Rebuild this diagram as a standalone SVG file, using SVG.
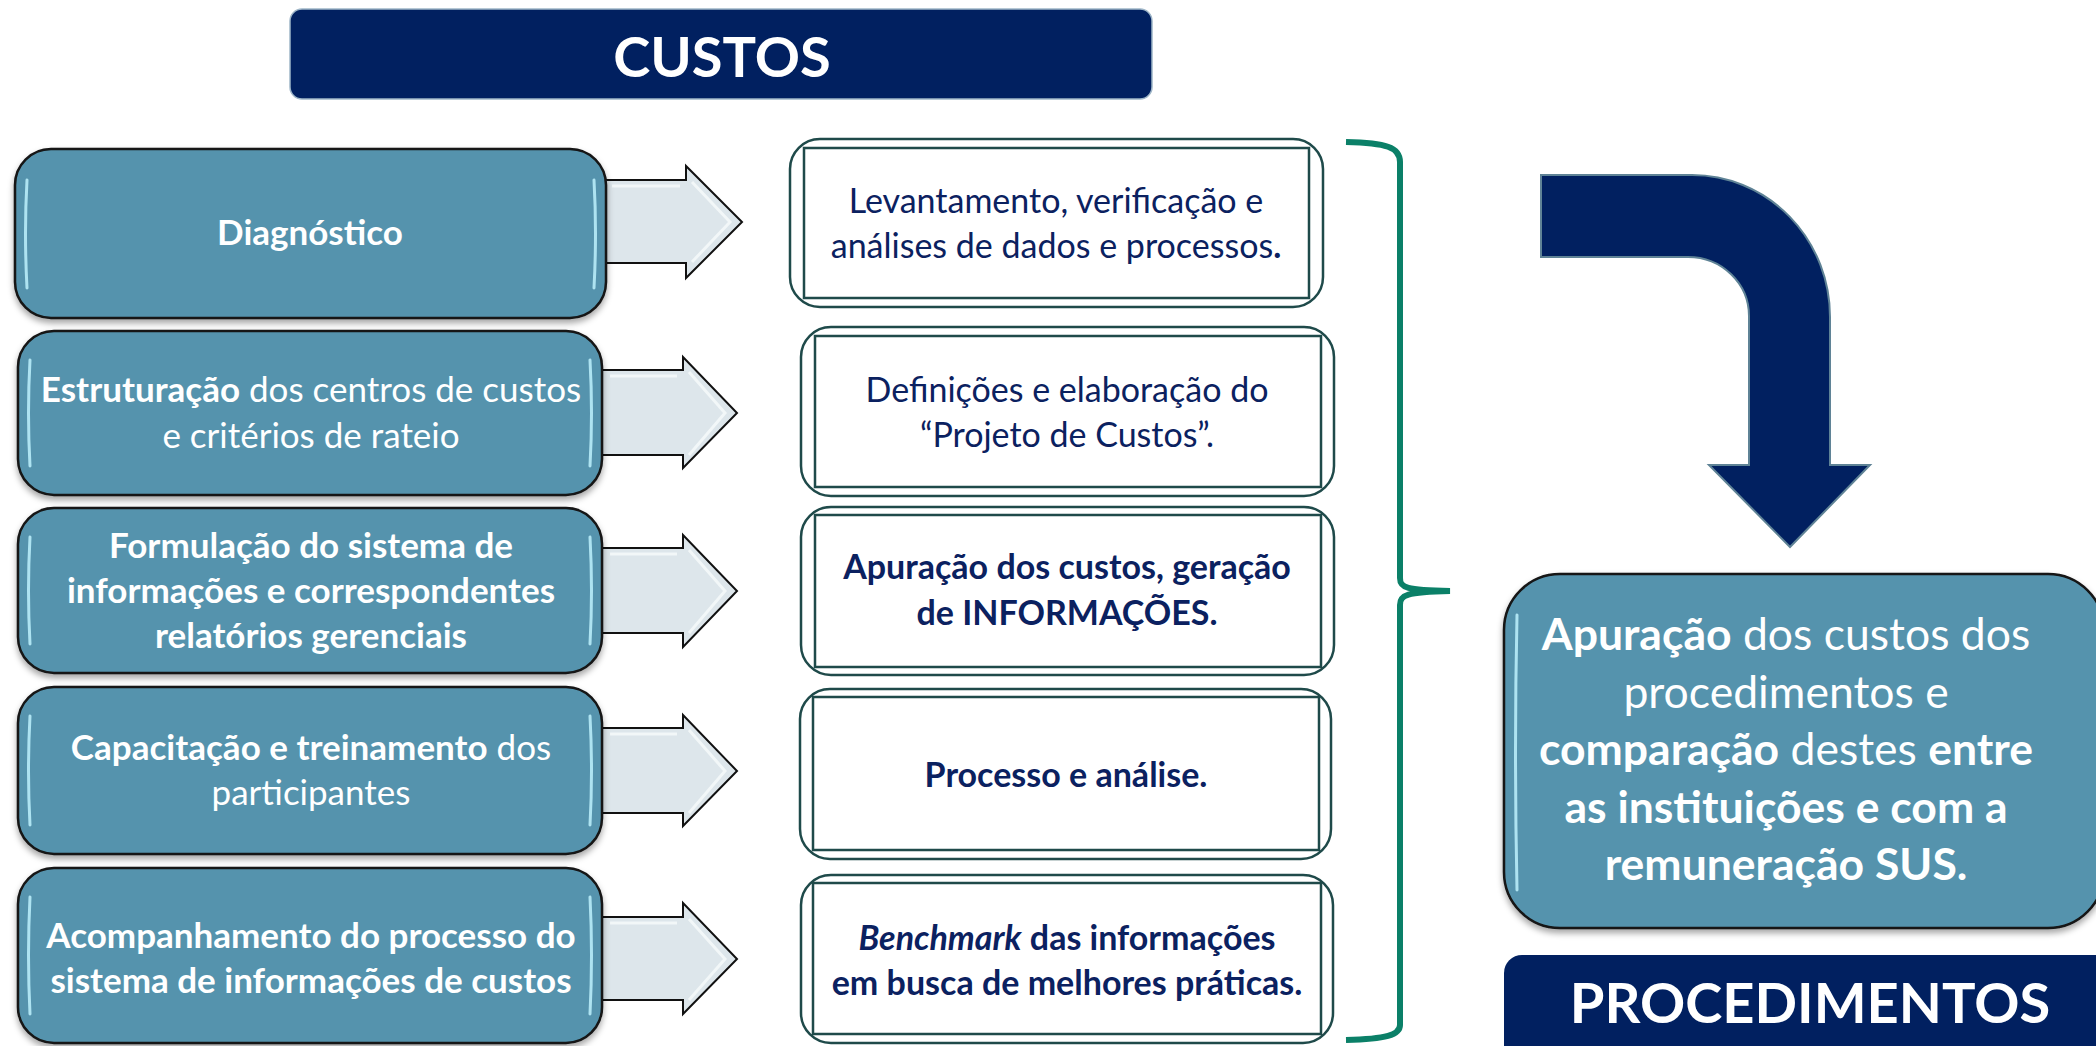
<svg xmlns="http://www.w3.org/2000/svg" width="2096" height="1046" viewBox="0 0 2096 1046">
<defs>
<style>
.lbox{fill:#5593ad;stroke:#141414;stroke-width:2.5}
.hl{stroke:#b8ecf8;stroke-width:3;stroke-linecap:round;fill:none;opacity:0.9}
.arr{fill:#dde6eb;stroke:#111;stroke-width:2;stroke-linejoin:miter}
.bev{fill:none;stroke:#f4f8fa;stroke-width:3;opacity:0.9}
.mout{fill:#fff;stroke:#1f4a4a;stroke-width:2.5}
.min{fill:none;stroke:#1f4a4a;stroke-width:2.5}
.lt{font-family:Lato,"Liberation Sans",sans-serif;font-size:35px;fill:#fff;text-anchor:middle}
.mt{font-family:Lato,"Liberation Sans",sans-serif;font-size:34px;fill:#0b2160;text-anchor:middle}
.rt{font-family:Lato,"Liberation Sans",sans-serif;font-size:44.5px;fill:#fff;text-anchor:middle}
.ht{font-family:Lato,"Liberation Sans",sans-serif;font-weight:bold;fill:#fff;text-anchor:middle}
.b{font-weight:bold}
.navy{fill:#012060}
</style>
<filter id="sh" x="-5%" y="-5%" width="110%" height="115%">
<feDropShadow dx="0" dy="4" stdDeviation="3" flood-color="#000" flood-opacity="0.35"/>
</filter>
</defs>

<g id="header-custos">
<rect class="navy" x="290" y="9" width="862" height="90" rx="12" stroke="#9fb6c8" stroke-width="1.5"/>
<text class="ht" x="722" y="77" font-size="56">CUSTOS</text>
</g>

<g id="connectors">
<path class="arr" d="M600,180 L686,180 L686,166 L742,222 L686,278 L686,263 L600,263 Z"/>
<path class="bev" d="M612,186 L680,186 M692,182 L730,222 L692,262"/>
<path class="arr" d="M598,370 L683,370 L683,357 L737,413 L683,468 L683,455 L598,455 Z"/>
<path class="bev" d="M610,376 L677,376 M689,372 L725,413 L689,455"/>
<path class="arr" d="M598,548 L683,548 L683,535 L737,591 L683,647 L683,633 L598,633 Z"/>
<path class="bev" d="M610,554 L677,554 M689,550 L725,591 L689,633"/>
<path class="arr" d="M598,728 L683,728 L683,715 L737,771 L683,826 L683,813 L598,813 Z"/>
<path class="bev" d="M610,734 L677,734 M689,730 L725,771 L689,813"/>
<path class="arr" d="M598,917 L683,917 L683,903 L737,959 L683,1014 L683,1000 L598,1000 Z"/>
<path class="bev" d="M610,923 L677,923 M689,919 L725,959 L689,1000"/>
<path id="bracket" d="M1346,142 C1386,143 1400,147 1400,162 L1400,578 C1400,588 1406,590 1450,591 C1406,592 1400,595 1400,605 L1400,1025 C1400,1035 1386,1039 1346,1040" fill="none" stroke="#0b8068" stroke-width="6"/>
<path id="bent-arrow" d="M1541,175 L1692,175 A138,142 0 0 1 1830,317 L1830,465 L1870,465 L1790,547 L1709,465 L1749,465 L1749,316 A61,59 0 0 0 1688,257 L1541,257 Z" fill="#012060" stroke="#5f8396" stroke-width="2"/>
</g>

<g id="step-diagnostico">
<rect class="lbox" filter="url(#sh)" x="15" y="149" width="591" height="169" rx="36"/>
<path class="hl" d="M27,180 Q24,233 27,288 M594,180 Q597,233 594,288"/>
<text class="lt b" x="310" y="245">Diagnóstico</text>
</g>

<g id="step-estruturacao">
<rect class="lbox" filter="url(#sh)" x="18" y="331" width="584" height="164" rx="36"/>
<path class="hl" d="M30,360 Q27,413 30,466 M590,360 Q593,413 590,466"/>
<text class="lt" x="311" y="402"><tspan class="b">Estruturação</tspan> dos centros de custos</text>
<text class="lt" x="311" y="448">e critérios de rateio</text>
</g>

<g id="step-formulacao">
<rect class="lbox" filter="url(#sh)" x="18" y="508" width="584" height="165" rx="36"/>
<path class="hl" d="M30,537 Q27,591 30,644 M590,537 Q593,591 590,644"/>
<text class="lt b" x="311" y="558">Formulação do sistema de</text>
<text class="lt b" x="311" y="603">informações e correspondentes</text>
<text class="lt b" x="311" y="648">relatórios gerenciais</text>
</g>

<g id="step-capacitacao">
<rect class="lbox" filter="url(#sh)" x="18" y="687" width="584" height="167" rx="36"/>
<path class="hl" d="M30,716 Q27,771 30,825 M590,716 Q593,771 590,825"/>
<text class="lt" x="311" y="760"><tspan class="b">Capacitação e treinamento</tspan> dos</text>
<text class="lt" x="311" y="805">participantes</text>
</g>

<g id="step-acompanhamento">
<rect class="lbox" filter="url(#sh)" x="18" y="868" width="584" height="175" rx="36"/>
<path class="hl" d="M30,897 Q27,955 30,1014 M590,897 Q593,955 590,1014"/>
<text class="lt b" x="311" y="948">Acompanhamento do processo do</text>
<text class="lt b" x="311" y="993">sistema de informações de custos</text>
</g>

<g id="result-levantamento">
<rect class="mout" x="790" y="139" width="533" height="168" rx="30"/>
<rect class="min" x="804" y="148" width="505" height="150"/>
<text class="mt" x="1056" y="213">Levantamento, verificação e</text>
<text class="mt" x="1056" y="258">análises de dados e processos<tspan class="b">.</tspan></text>
</g>

<g id="result-definicoes">
<rect class="mout" x="801" y="327" width="533" height="169" rx="30"/>
<rect class="min" x="815" y="336" width="506" height="151"/>
<text class="mt" x="1067" y="402">Definições e elaboração do</text>
<text class="mt" x="1067" y="447">“Projeto de Custos”.</text>
</g>

<g id="result-apuracao">
<rect class="mout" x="801" y="507" width="533" height="168" rx="30"/>
<rect class="min" x="815" y="515" width="506" height="152"/>
<text class="mt b" x="1067" y="579">Apuração dos custos, geração</text>
<text class="mt b" x="1067" y="625">de INFORMAÇÕES.</text>
</g>

<g id="result-processo">
<rect class="mout" x="800" y="689" width="531" height="170" rx="30"/>
<rect class="min" x="813" y="697" width="506" height="153"/>
<text class="mt b" x="1066" y="787">Processo e análise.</text>
</g>

<g id="result-benchmark">
<rect class="mout" x="801" y="875" width="532" height="168" rx="30"/>
<rect class="min" x="813" y="883" width="508" height="151"/>
<text class="mt b" x="1067" y="950" font-size="35"><tspan font-style="italic">Benchmark</tspan> das informações</text>
<text class="mt b" x="1067" y="995" font-size="35">em busca de melhores práticas.</text>
</g>

<g id="result-procedimentos">
<rect class="lbox" filter="url(#sh)" x="1504" y="574" width="600" height="354" rx="56"/>
<path class="hl" d="M1517,615 Q1514,750 1517,890"/>
<text class="rt" x="1786" y="650"><tspan class="b">Apuração</tspan> dos custos dos</text>
<text class="rt" x="1786" y="708">procedimentos e</text>
<text class="rt" x="1786" y="765"><tspan class="b">comparação</tspan> destes <tspan class="b">entre</tspan></text>
<text class="rt b" x="1786" y="823">as instituições e com a</text>
<text class="rt b" x="1786" y="880">remuneração SUS.</text>
</g>

<g id="header-procedimentos">
<rect class="navy" x="1504" y="955" width="610" height="110" rx="18"/>
<text class="ht" x="1810" y="1023" font-size="56">PROCEDIMENTOS</text>
</g>
</svg>
